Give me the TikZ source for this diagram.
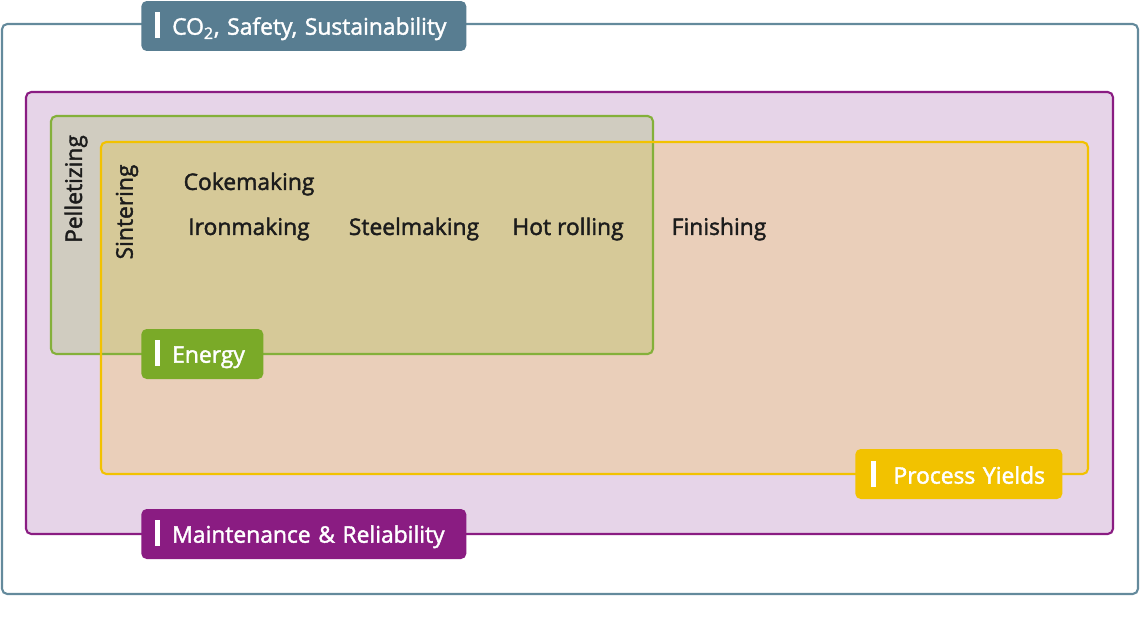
\documentclass[tikz,border=0pt]{standalone}
\usepackage{fontspec}
\setmainfont{Open Sans}
\newfontfamily\semibold{Open Sans}[FakeBold=1.8]
\usetikzlibrary{positioning}
\definecolor{slateblue}{RGB}{88,125,145}
\definecolor{slateline}{RGB}{100,138,156}
\definecolor{plum}{RGB}{138,28,130}
\definecolor{pinkfill}{RGB}{230,212,232}
\definecolor{gold}{RGB}{242,194,0}
\definecolor{peachfill}{RGB}{234,207,186}
\definecolor{leaf}{RGB}{122,170,40}
\definecolor{leafline}{RGB}{132,176,58}
\definecolor{greyfill}{RGB}{208,204,192}
\definecolor{olivefill}{RGB}{214,201,152}
\definecolor{ink}{RGB}{28,28,28}

\begin{document}
\begin{tikzpicture}[
  x=0.02cm, y=-0.02cm,
  region/.style={rounded corners=3pt, line width=1.2pt},
  tag/.style={anchor=west, rounded corners=3pt, text=white, minimum height=1cm,
              inner xsep=0.28cm, align=left, font=\semibold\fontsize{13}{15}\selectfont},
  proc/.style={text=ink, font=\semibold\fontsize{13}{15}\selectfont}
]
  \useasboundingbox (0,0) rectangle (1140,626);

  % nested regions
  \draw[region, draw=slateline, fill=white] (2,24) rectangle (1138,594);
  \draw[region, draw=plum, fill=pinkfill] (26,92) rectangle (1113,534);
  \fill[region, greyfill] (51,116) rectangle (653,354);
  \fill[region, peachfill] (101,142) rectangle (1088,474);
  \begin{scope}
    \clip[rounded corners=3pt] (101,142) rectangle (1088,474);
    \fill[region, olivefill] (51,116) rectangle (653,354);
  \end{scope}
  \draw[region, draw=leafline] (51,116) rectangle (653,354);
  \draw[region, draw=gold] (101,142) rectangle (1088,474);

  % tags
  \node[tag, fill=slateblue, text width=5.94cm] (co2) at (141,26)
    {\rule[-2pt]{2.6pt}{15pt}\hspace{7pt}CO\textsubscript{2}, Safety, Sustainability};
  \node[tag, fill=leaf, text width=1.88cm] (energy) at (141,354)
    {\rule[-2pt]{2.6pt}{15pt}\hspace{7pt}Energy};
  \node[tag, fill=gold, text width=3.5cm, inner xsep=0.32cm] (yields) at (855,474)
    {\rule[-2pt]{2.6pt}{15pt}\hspace{10pt}Process Yields};
  \node[tag, fill=plum, text width=5.94cm] (maint) at (141,534)
    {\rule[-2pt]{2.6pt}{15pt}\hspace{7pt}Maintenance \& Reliability};

  % process steps
  \node[proc, rotate=90] (pellet) at (76,189) {Pelletizing};
  \node[proc, rotate=90] (sinter) at (127,212) {Sintering};
  \node[proc] (coke) at (249,184) {Cokemaking};
  \node[proc] (iron) at (249,229) {Ironmaking};
  \node[proc] (steel) at (414,229) {Steelmaking};
  \node[proc] (hot) at (568,229) {Hot rolling};
  \node[proc] (finish) at (719,229) {Finishing};
\end{tikzpicture}
\end{document}
